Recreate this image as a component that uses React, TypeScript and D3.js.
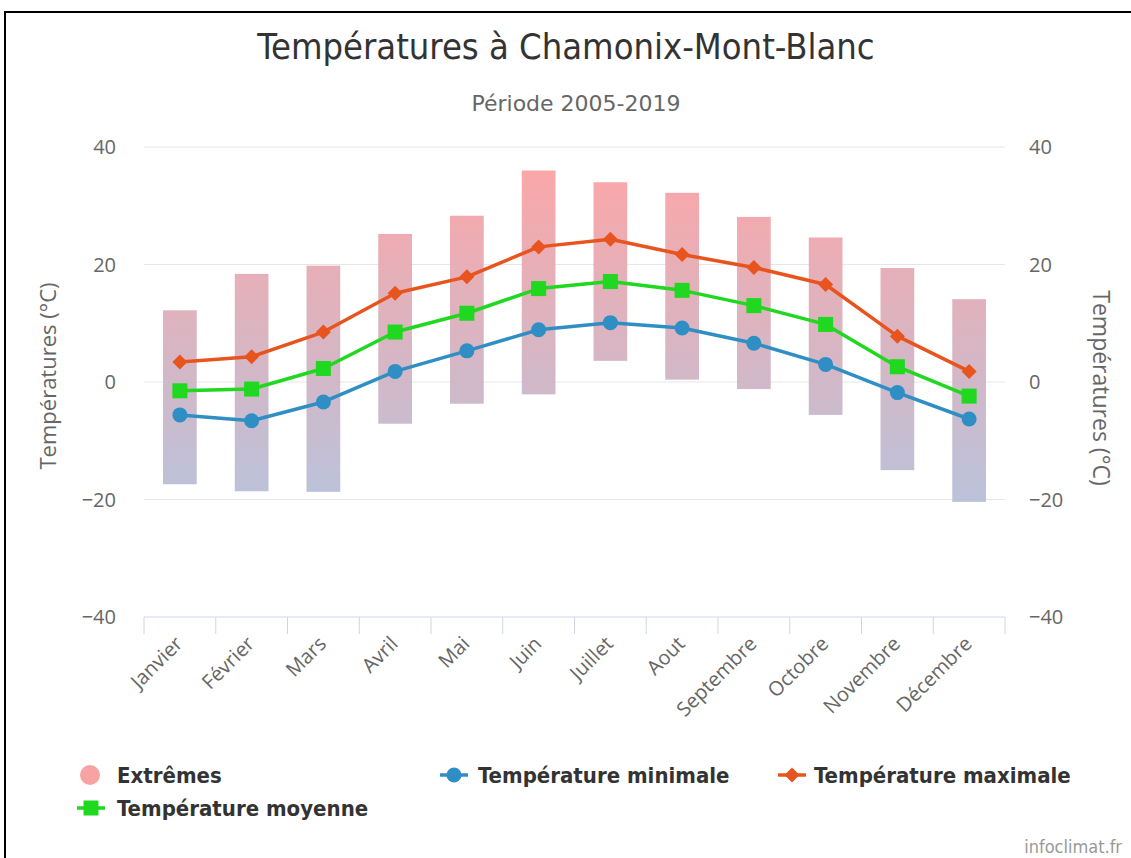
import { useEffect, useRef } from "react"
import * as d3 from "d3"

const MONTHS = ["Janvier", "Février", "Mars", "Avril", "Mai", "Juin", "Juillet", "Aout", "Septembre", "Octobre", "Novembre", "Décembre"]
const EXTREME_LOW = [-17.4, -18.6, -18.7, -7.1, -3.7, -2.1, 3.6, 0.4, -1.2, -5.6, -15.0, -20.4]
const EXTREME_HIGH = [12.2, 18.4, 19.8, 25.2, 28.3, 36.0, 34.0, 32.2, 28.1, 24.6, 19.4, 14.1]
const T_MIN = [-5.6, -6.6, -3.4, 1.8, 5.3, 8.9, 10.1, 9.2, 6.6, 3.0, -1.8, -6.3]
const T_MAX = [3.4, 4.3, 8.5, 15.1, 17.9, 23.0, 24.3, 21.7, 19.5, 16.6, 7.8, 1.8]
const T_MEAN = [-1.5, -1.2, 2.3, 8.5, 11.7, 15.9, 17.1, 15.6, 13.0, 9.8, 2.6, -2.4]
const Y_TICKS = [-40, -20, 0, 20, 40]

const W = 1131
const H = 858
const TICK_FONT = "'Open Sans', sans-serif"
const COND_FONT = "'DejaVu Sans Condensed', 'DejaVu Sans', sans-serif"
const WIDE_FONT = "'DejaVu Sans', sans-serif"

export default function App() {
  const svgRef = useRef<SVGSVGElement>(null)

  useEffect(() => {
    const svg = d3.select(svgRef.current)
    svg.selectAll("*").remove()

    const x = d3.scaleBand().domain(MONTHS).range([144, 1005])
    const y = d3.scaleLinear().domain([-40, 40]).range([617, 147])
    const cx = (m: string) => (x(m) as number) + x.bandwidth() / 2

    // frame
    svg.append("rect")
      .attr("x", 5).attr("y", 12).attr("width", W + 20).attr("height", H + 20)
      .attr("fill", "#fff").attr("stroke", "#000").attr("stroke-width", 2)

    // gradient for the extremes bars
    const defs = svg.append("defs")
    const grad = defs.append("linearGradient")
      .attr("id", "extGrad").attr("gradientUnits", "userSpaceOnUse")
      .attr("x1", 0).attr("x2", 0).attr("y1", y(40)).attr("y2", y(-22))
    grad.append("stop").attr("offset", "0%").attr("stop-color", "#ffa0a0")
    grad.append("stop").attr("offset", "100%").attr("stop-color", "#b4c0da")

    // title
    svg.append("text").attr("x", 566).attr("y", 59).attr("text-anchor", "middle")
      .style("font-family", COND_FONT).style("font-size", "36px").attr("fill", "#333")
      .text("Températures à Chamonix-Mont-Blanc")
    svg.append("text").attr("x", 576).attr("y", 111).attr("text-anchor", "middle")
      .style("font-family", WIDE_FONT).style("font-size", "22px").attr("fill", "#666")
      .text("Période 2005-2019")

    // gridlines
    svg.append("g").selectAll("line").data(Y_TICKS.filter(t => t !== -40)).join("line")
      .attr("x1", 144).attr("x2", 1005).attr("y1", d => y(d)).attr("y2", d => y(d))
      .attr("stroke", "#e6e6e6").attr("stroke-width", 1)

    // y labels both sides
    const yl = svg.append("g").style("font-family", TICK_FONT).style("font-size", "20px").attr("fill", "#666")
    yl.selectAll(".yl").data(Y_TICKS).join("text").attr("class", "yl")
      .attr("x", 116).attr("y", d => y(d) + 7).attr("text-anchor", "end").text(d => d.toString().replace("-", "−"))
    yl.selectAll(".yr").data(Y_TICKS).join("text").attr("class", "yr")
      .attr("x", 1029).attr("y", d => y(d) + 7).attr("text-anchor", "start").text(d => d.toString().replace("-", "−"))

    svg.append("text").attr("transform", `translate(56,376) rotate(-90)`).attr("text-anchor", "middle")
      .style("font-family", TICK_FONT).style("font-size", "22px").attr("fill", "#666").text("Températures (°C)")
    svg.append("text").attr("transform", `translate(1093,388) rotate(90)`).attr("text-anchor", "middle")
      .style("font-family", TICK_FONT).style("font-size", "23px").attr("fill", "#666").text("Températures (°C)")

    // x axis
    const xg = svg.append("g")
    xg.append("line").attr("x1", 144).attr("x2", 1005).attr("y1", y(-40)).attr("y2", y(-40))
      .attr("stroke", "#ccd6eb")
    const bounds = MONTHS.map(m => x(m) as number).concat([1005])
    xg.selectAll(".tk").data(bounds).join("line").attr("class", "tk")
      .attr("x1", d => d).attr("x2", d => d).attr("y1", y(-40)).attr("y2", y(-40) + 17)
      .attr("stroke", "#ccd6eb")
    xg.selectAll(".xl").data(MONTHS).join("text").attr("class", "xl")
      .attr("transform", m => `translate(${cx(m) + 4},${y(-40) + 28}) rotate(-45)`)
      .attr("text-anchor", "end")
      .style("font-family", TICK_FONT).style("font-size", "20px").attr("fill", "#666").text(m => m)

    // extremes bars
    const bw = x.bandwidth() * 0.47
    svg.append("g").selectAll("rect").data(MONTHS).join("rect")
      .attr("x", (m) => cx(m) - bw / 2).attr("width", bw)
      .attr("y", (_, i) => y(EXTREME_HIGH[i])).attr("height", (_, i) => y(EXTREME_LOW[i]) - y(EXTREME_HIGH[i]))
      .attr("fill", "url(#extGrad)").attr("opacity", 0.95)

    const line = (vals: number[]) => d3.line<string>()
      .x(m => cx(m)).y((_, i) => y(vals[i]))(MONTHS)

    const series = [
      { vals: T_MIN, color: "#2f8fc4", shape: "circle" },
      { vals: T_MEAN, color: "#1fd81f", shape: "square" },
      { vals: T_MAX, color: "#e8541e", shape: "diamond" },
    ]
    const marker = (g: d3.Selection<SVGGElement, unknown, null, undefined>, shape: string, color: string, px: number, py: number) => {
      if (shape === "circle") g.append("circle").attr("cx", px).attr("cy", py).attr("r", 7.5).attr("fill", color)
      else if (shape === "square") g.append("rect").attr("x", px - 7.5).attr("y", py - 7.5).attr("width", 15).attr("height", 15).attr("fill", color)
      else g.append("path").attr("d", `M${px},${py - 7.5}L${px + 7.5},${py}L${px},${py + 7.5}L${px - 7.5},${py}Z`).attr("fill", color)
    }
    series.forEach(s => {
      const g = svg.append("g")
      g.append("path").attr("d", line(s.vals)).attr("fill", "none").attr("stroke", s.color).attr("stroke-width", 3.5)
        .attr("stroke-linejoin", "round")
      MONTHS.forEach((m, i) => marker(g as any, s.shape, s.color, cx(m), y(s.vals[i])))
    })

    // legend
    const lg = svg.append("g").style("font-family", COND_FONT).style("font-size", "22px")
      .style("font-weight", "bold").attr("fill", "#333")
    lg.append("circle").attr("cx", 90).attr("cy", 775).attr("r", 10).attr("fill", "#f7a3a3")
    lg.append("text").attr("x", 117).attr("y", 783).text("Extrêmes")
    const items = [
      { x: 440, y: 775, tx: 478, s: series[0], label: "Température minimale" },
      { x: 778, y: 775, tx: 814, s: series[2], label: "Température maximale" },
      { x: 77, y: 808, tx: 117, s: series[1], label: "Température moyenne" },
    ]
    items.forEach(it => {
      const g = lg.append("g")
      g.append("line").attr("x1", it.x).attr("x2", it.x + 28).attr("y1", it.y).attr("y2", it.y)
        .attr("stroke", it.s.color).attr("stroke-width", 3.5)
      marker(g as any, it.s.shape, it.s.color, it.x + 14, it.y)
      g.append("text").attr("x", it.tx).attr("y", it.y + 8).text(it.label)
    })

    svg.append("text").attr("x", 1122).attr("y", 853).attr("text-anchor", "end")
      .style("font-family", COND_FONT).style("font-size", "18px").attr("fill", "#999").text("infoclimat.fr")
  }, [])

  return <svg ref={svgRef} width={W} height={H} style={{ position: "absolute", left: 0, top: 0, background: "#fff" }} />
}
